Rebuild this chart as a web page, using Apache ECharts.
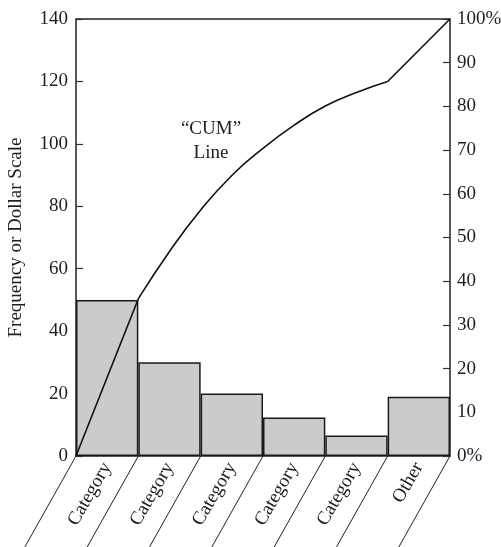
<!DOCTYPE html>
<html>
<head>
<meta charset="utf-8">
<script src="https://cdn.jsdelivr.net/npm/echarts@6/dist/echarts.min.js"></script>
<style>html,body{margin:0;padding:0;background:#fff;}#c{width:501px;height:547px;}</style>
</head>
<body>
<div id="c"></div>
<script>
const categories = ['Category', 'Category', 'Category', 'Category', 'Category', 'Other'];
const barValues = [50, 30, 20, 12.3, 6.6, 19];
const boundaries = [0, 1, 2, 3, 4, 5, 6];
// cumulative line (x in category-boundary units, y in percent)
const cumX = [0, 1, 1.5, 2, 2.5, 3, 3.5, 4, 4.5, 5, 6];
const cumPct = [0, 36, 46.8, 56.3, 64.2, 70.4, 75.7, 80.1, 83.2, 85.7, 100];
const leftAxisName = 'Frequency or Dollar Scale';
const cumLabel = '\u201cCUM\u201d\nLine';

const FONT = 'Liberation Serif';
const TXT = '#1d1d26';
const FS = 19;

const cumPoints = cumX.map((x, i) => [x, cumPct[i]]);
// straight first and last segments, curved middle part
const firstSeg = cumPoints.slice(0, 2);
const curveSeg = cumPoints.slice(1, cumPoints.length - 1);
const lastSeg = cumPoints.slice(cumPoints.length - 2);

const lineStyle = { color: '#111', width: 1.6 };
const chart = echarts.init(document.getElementById('c'), null, { renderer: 'canvas' });
chart.setOption({
  animation: false,
  backgroundColor: '#fff',
  grid: {
    left: 76, right: 51, top: 19, bottom: 91,
    show: true, borderColor: '#222', borderWidth: 1.5,
    outerBoundsMode: 'none'
  },
  xAxis: [
    {
      type: 'category', data: categories, boundaryGap: true,
      axisLine: { show: false }, axisTick: { show: false },
      axisLabel: { interval: 0, rotate: 60, margin: 8, fontFamily: FONT, fontSize: FS, color: TXT }
    },
    { type: 'value', min: 0, max: 6, show: false }
  ],
  yAxis: [
    {
      type: 'value', min: 0, max: 140, interval: 20, position: 'left',
      name: leftAxisName, nameLocation: 'middle', nameGap: 50,
      nameTextStyle: { fontFamily: FONT, fontSize: FS, color: TXT },
      axisLine: { show: false },
      axisTick: { show: true, inside: true, length: 7, lineStyle: { color: '#333', width: 1.2 } },
      splitLine: { show: false },
      axisLabel: { margin: 8, fontFamily: FONT, fontSize: FS, color: TXT }
    },
    {
      type: 'value', min: 0, max: 100, interval: 10, position: 'right',
      axisLine: { show: false },
      axisTick: { show: true, inside: true, length: 7, lineStyle: { color: '#333', width: 1.2 } },
      splitLine: { show: false },
      axisLabel: {
        margin: 7, fontFamily: FONT, fontSize: FS, color: TXT,
        formatter: v => (v === 0 || v === 100) ? v + '%' : String(v)
      }
    }
  ],
  graphic: [{
    type: 'text', x: 211, y: 117,
    style: { text: cumLabel, fontFamily: FONT, fontSize: FS, fill: TXT, align: 'center', textAlign: 'center', lineHeight: 24 }
  }],
  series: [
    {
      type: 'bar', data: barValues, barCategoryGap: '0%', barGap: '0%',
      xAxisIndex: 0, yAxisIndex: 0, z: 2,
      itemStyle: { color: '#cbcbcb', borderColor: '#1a1a1a', borderWidth: 1.5 }
    },
    {
      type: 'custom', xAxisIndex: 1, yAxisIndex: 0, clip: false, z: 1, silent: true,
      data: boundaries.map(b => [b, 0]),
      renderItem: (params, api) => {
        const p = api.coord([api.value(0), 0]);
        return {
          type: 'line',
          shape: { x1: p[0], y1: p[1], x2: p[0] - 54, y2: p[1] + 96 },
          style: { stroke: '#222', lineWidth: 1 }
        };
      }
    },
    { type: 'line', xAxisIndex: 1, yAxisIndex: 1, z: 5, data: firstSeg, symbol: 'none', lineStyle },
    { type: 'line', xAxisIndex: 1, yAxisIndex: 1, z: 5, data: curveSeg, smooth: 0.5, symbol: 'none', lineStyle },
    { type: 'line', xAxisIndex: 1, yAxisIndex: 1, z: 5, data: lastSeg, symbol: 'none', lineStyle }
  ]
});
</script>
</body>
</html>
